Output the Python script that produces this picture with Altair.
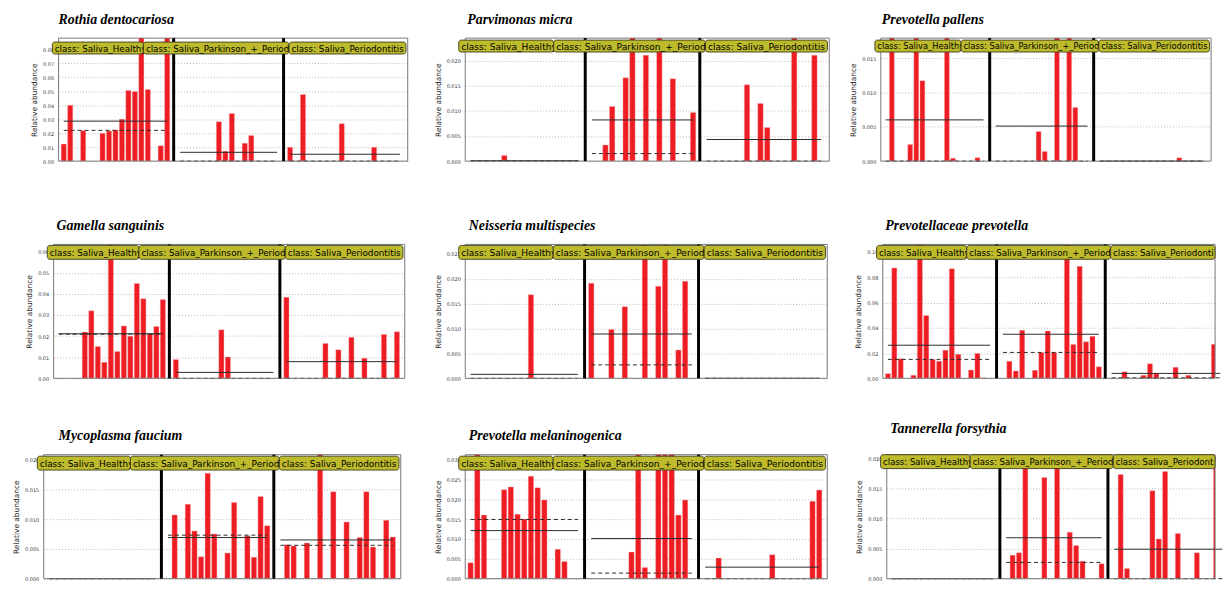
import altair as alt
import pandas as pd

# ---------------- data ----------------
CLASS_NAMES = ["Saliva_Healthy", "Saliva_Parkinson_+_Periodontitis", "Saliva_Periodontitis"]
CLASS_FIRST = [0, 18, 35]
CLASS_LAST = [16, 33, 52]
SEPARATORS = [17, 34]
X_START = -0.8

TITLES = ["Rothia dentocariosa", "Parvimonas micra", "Prevotella pallens",
          "Gamella sanguinis", "Neisseria multispecies", "Prevotellaceae prevotella",
          "Mycoplasma faucium", "Prevotella melaninogenica", "Tannerella forsythia"]

P1_IDX = [0, 1, 3, 6, 7, 8, 9, 10, 11, 12, 13, 15, 16, 24, 25, 26, 28, 29, 35, 37, 43, 48]
P1_VAL = [0.0122, 0.040, 0.0218, 0.020, 0.0216, 0.0223, 0.030, 0.0505, 0.0498, 0.095, 0.0512, 0.011, 0.095,
          0.0282, 0.007, 0.034, 0.0127, 0.0183, 0.0099, 0.0477, 0.0268, 0.0099]
P1_MEAN = [0.0286, 0.0063, 0.0049]
P1_MEDIAN = [0.022, 0.0, 0.0]
P1_TICKS = [0.0, 0.01, 0.02, 0.03, 0.04, 0.05, 0.06, 0.07, 0.08]

P2_IDX = [5, 20, 21, 23, 24, 26, 28, 30, 33, 41, 43, 44, 48, 51]
P2_VAL = [0.0011, 0.0032, 0.0109, 0.0166, 0.028, 0.0211, 0.028, 0.0164, 0.0097,
          0.0152, 0.0115, 0.0067, 0.028, 0.0211]
P2_MEAN = [0.0001, 0.0082, 0.0043]
P2_MEDIAN = [0.0, 0.0015, 0.0]
P2_TICKS = [0.0, 0.005, 0.010, 0.015, 0.020]

P3_IDX = [1, 4, 5, 6, 10, 11, 15, 25, 26, 28, 30, 31, 48]
P3_VAL = [0.022, 0.0024, 0.022, 0.0117, 0.022, 0.0004, 0.0005, 0.0043, 0.0014, 0.022, 0.022, 0.0078, 0.0005]
P3_MEAN = [0.006, 0.0051, 0.0]
P3_MEDIAN = [0.0, 0.0, 0.0]
P3_TICKS = [0.0, 0.005, 0.010, 0.015]

P4_IDX = [4, 5, 6, 7, 8, 9, 10, 11, 12, 13, 14, 15, 16, 18, 25, 26, 35, 41, 43, 45, 47, 50, 52]
P4_VAL = [0.0219, 0.032, 0.0151, 0.0076, 0.07, 0.0127, 0.0248, 0.0199, 0.0449, 0.0377, 0.0211, 0.0245, 0.0373,
          0.0089, 0.023, 0.0101, 0.0384, 0.0165, 0.0135, 0.0194, 0.0095, 0.0208, 0.022]
P4_MEAN = [0.0211, 0.0028, 0.0079]
P4_MEDIAN = [0.0209, 0.0, 0.0]
P4_TICKS = [0.0, 0.01, 0.02, 0.03, 0.04, 0.05, 0.06]

P5_IDX = [9, 18, 21, 23, 26, 28, 29, 31, 32]
P5_VAL = [0.0168, 0.0191, 0.0098, 0.0144, 0.03, 0.0185, 0.03, 0.0057, 0.0195]
P5_MEAN = [0.0008, 0.0089, 0.0]
P5_MEDIAN = [0.0, 0.0027, 0.0]
P5_TICKS = [0.0, 0.005, 0.010, 0.015, 0.020, 0.025]

P6_IDX = [0, 1, 2, 4, 5, 6, 7, 8, 9, 10, 11, 13, 14, 15,
          19, 20, 21, 23, 24, 25, 26, 28, 29, 30, 31, 32, 33,
          37, 40, 41, 42, 45, 47, 51, 52]
P6_VAL = [0.0037, 0.0873, 0.0155, 0.0024, 0.115, 0.0498, 0.015, 0.0136, 0.0223, 0.0868, 0.0191, 0.0066, 0.0197, 0.0005,
          0.0136, 0.0058, 0.038, 0.0063, 0.0205, 0.0375, 0.0205, 0.115, 0.0268, 0.0887, 0.0289, 0.0333, 0.0092,
          0.0052, 0.0024, 0.0115, 0.0039, 0.0087, 0.0024, 0.027, 0.0197]
P6_MEAN = [0.0262, 0.0349, 0.0039]
P6_MEDIAN = [0.015, 0.0205, 0.0004]
P6_TICKS = [0.0, 0.02, 0.04, 0.06, 0.08, 0.10]

P7_IDX = [19, 21, 22, 23, 24, 25, 27, 28, 30, 31, 32, 33, 36, 37, 39, 41, 43, 45, 47, 48, 49, 51, 52]
P7_VAL = [0.0107, 0.0125, 0.008, 0.0037, 0.0177, 0.0075, 0.0043, 0.0128, 0.0072, 0.0036, 0.0138, 0.0089,
          0.0057, 0.0055, 0.006, 0.025, 0.0146, 0.0095, 0.0069, 0.0146, 0.0053, 0.0098, 0.007]
P7_MEAN = [0.0, 0.0069, 0.0065]
P7_MEDIAN = [0.0, 0.0073, 0.0056]
P7_TICKS = [0.0, 0.005, 0.010, 0.015, 0.020]

P8_IDX = [0, 1, 2, 5, 6, 7, 8, 9, 10, 11, 13, 14, 24, 25, 26, 28, 29, 30, 31, 32, 37, 45, 51, 52]
P8_VAL = [0.004, 0.035, 0.016, 0.0224, 0.0231, 0.0162, 0.015, 0.0258, 0.0229, 0.0198, 0.0074, 0.0043,
          0.0067, 0.035, 0.0028, 0.035, 0.035, 0.035, 0.016, 0.0198, 0.0052, 0.006, 0.0195, 0.0223]
P8_MEAN = [0.0121, 0.0101, 0.0029]
P8_MEDIAN = [0.0149, 0.0014, 0.0]
P8_TICKS = [0.0, 0.005, 0.010, 0.015, 0.020, 0.025, 0.030]

P9_IDX = [19, 20, 21, 24, 26, 28, 29, 30, 33, 36, 37, 41, 42, 43, 45, 48, 51]
P9_VAL = [0.0039, 0.0043, 0.025, 0.0168, 0.025, 0.0077, 0.0055, 0.0029, 0.0025,
          0.0173, 0.0017, 0.0146, 0.0066, 0.0178, 0.0075, 0.0043, 0.025]
P9_MEAN = [0.0, 0.0068, 0.0049]
P9_MEDIAN = [0.0, 0.0027, 0.0]
P9_TICKS = [0.0, 0.005, 0.010, 0.015, 0.020]

# ---------------- styling / layout ----------------
RED = "#ee1d24"
OLIVE = "#bdbb2b"
FONT = "DejaVu Sans"

def panel(title, idx, val, mean, median, ticks, ymax, fmt,
          full_w, vis_w, h, box_y, title_off, title_dx):
    unit = full_w / 54.0
    xmax = X_START + vis_w / unit
    xs = alt.Scale(domain=[X_START, xmax], nice=False, zero=False)
    ys = alt.Scale(domain=[0, ymax], nice=False)
    yaxis = alt.Axis(values=ticks, format=fmt, title="Relative abundance",
                     grid=True, gridDash=[1, 2], gridColor="#a8a8a8", gridWidth=0.8,
                     ticks=False, domain=False,
                     labelFont=FONT, labelFontSize=5, labelColor="#333", labelPadding=5,
                     titleFont=FONT, titleFontSize=7.5, titleFontWeight="normal",
                     titleColor="#222", titlePadding=4)

    bars_df = pd.DataFrame({"k": idx, "v": val})
    bars = alt.Chart(bars_df).transform_calculate(
        x0="datum.k - 0.4", x1="datum.k + 0.4"
    ).mark_bar(color=RED, clip=True, stroke="#f7b0b0", strokeWidth=0.4).encode(
        x=alt.X("x0:Q", scale=xs, axis=None), x2="x1:Q",
        y=alt.Y("v:Q", scale=ys, axis=yaxis), y2=alt.datum(0))

    stats = pd.DataFrame({"s": CLASS_FIRST, "e": CLASS_LAST, "mean": mean, "median": median})
    mean_rule = alt.Chart(stats).mark_rule(color="#2a2a2a", strokeWidth=1).encode(
        x=alt.X("s:Q", scale=xs, axis=None), x2="e:Q",
        y=alt.Y("mean:Q", scale=ys, axis=yaxis))
    median_rule = alt.Chart(stats).mark_rule(color="#2a2a2a", strokeWidth=1, strokeDash=[4, 3]).encode(
        x=alt.X("s:Q", scale=xs, axis=None), x2="e:Q",
        y=alt.Y("median:Q", scale=ys, axis=yaxis))

    frame = alt.Chart(pd.DataFrame({"f": [0]})).mark_rect(
        fillOpacity=0, stroke="#777", strokeWidth=1).encode(
        x=alt.value(0), x2=alt.value(vis_w), y=alt.value(0), y2=alt.value(h))

    seps = alt.Chart(pd.DataFrame({"b": SEPARATORS})).mark_rule(
        color="black", strokeWidth=3).encode(x=alt.X("b:Q", scale=xs, axis=None))

    layers = [bars, mean_rule, median_rule, frame, seps]
    starts = [-0.018 * full_w, 0.243 * full_w, 0.66 * full_w]
    ends = [starts[1], starts[2], min(0.995 * full_w, vis_w)]
    fs = 9.0 * full_w / 360.0
    y0, y1 = box_y
    for name, bx0, bx1 in zip(CLASS_NAMES, starts, ends):
        lab = pd.DataFrame({"t": ["class: " + name]})
        layers.append(alt.Chart(lab).mark_rect(
            fill=OLIVE, stroke="#3b3b22", strokeWidth=0.9, cornerRadius=2.5).encode(
            x=alt.value(bx0), x2=alt.value(bx1), y=alt.value(y0), y2=alt.value(y1)))
        layers.append(alt.Chart(lab).mark_text(
            align="left", baseline="middle", font=FONT, fontSize=fs, color="black",
            limit=max(vis_w - bx0 - 3.5, 10), ellipsis="\u200b").encode(
            x=alt.value(bx0 + 2.5), y=alt.value((y0 + y1) / 2 + 0.5), text="t:N"))

    return alt.layer(*layers).properties(
        width=vis_w, height=h,
        title=alt.TitleParams(title, anchor="start", frame="group", font="Liberation Serif",
                              fontSize=14, fontStyle="italic", fontWeight="bold",
                              color="black", offset=title_off, dx=title_dx))


def spacer(w, h):
    return alt.Chart(pd.DataFrame({"s": [0]})).mark_point(opacity=0, size=1).encode(
        x=alt.value(w / 2), y=alt.value(h / 2)).properties(width=w, height=h)


# the page leaves 1216 px for the chart: wider charts get shrunk, so rows stay within it
H1, H2, H3 = 124, 135, 125
p1 = panel(TITLES[0], P1_IDX, P1_VAL, P1_MEAN, P1_MEDIAN, P1_TICKS, 0.088, ".2f", 352, 352, H1, (4, 16), 10, 0)
p2 = panel(TITLES[1], P2_IDX, P2_VAL, P2_MEAN, P2_MEDIAN, P2_TICKS, 0.0245, ".3f", 367, 367, H1, (2, 14), 10, 2)
p3 = panel(TITLES[2], P3_IDX, P3_VAL, P3_MEAN, P3_MEDIAN, P3_TICKS, 0.0179, ".3f", 333, 333, H1, (2, 14), 10, 1)
p4 = panel(TITLES[3], P4_IDX, P4_VAL, P4_MEAN, P4_MEDIAN, P4_TICKS, 0.0634, ".2f", 354, 354, H2, (1, 15), 10, 3)
p5 = panel(TITLES[4], P5_IDX, P5_VAL, P5_MEAN, P5_MEDIAN, P5_TICKS, 0.0269, ".3f", 365, 365, H2, (1, 15), 10, 3.5)
p6 = panel(TITLES[5], P6_IDX, P6_VAL, P6_MEAN, P6_MEDIAN, P6_TICKS, 0.106, ".2f", 348, 335, H2, (1, 15), 10, 2.5)
p7 = panel(TITLES[6], P7_IDX, P7_VAL, P7_MEAN, P7_MEDIAN, P7_TICKS, 0.0208, ".3f", 360, 360, H3, (1.5, 15.5), 10, 15)
p8 = panel(TITLES[7], P8_IDX, P8_VAL, P8_MEAN, P8_MEDIAN, P8_TICKS, 0.0312, ".3f", 365, 365, H3, (1.5, 15.5), 10, 3.5)
p9 = panel(TITLES[8], P9_IDX, P9_VAL, P9_MEAN, P9_MEDIAN, P9_TICKS, 0.0206, ".3f", 346, 331, H3, (0, 14), 17, 3.5)

row1 = alt.hconcat(spacer(50, 1), p1, spacer(58, 1), p2, spacer(52, 1), p3, spacing=0, bounds="flush")
row2 = alt.hconcat(spacer(45, 1), p4, spacer(61, 1), p5, spacer(56, 1), p6, spacing=0, bounds="flush")
row3 = alt.hconcat(spacer(35, 1), p7, spacer(65, 1), p8, spacer(60, 1), p9, spacing=0, bounds="flush")

# nested rows count as zero height in a flush layout, so spacers carry the row heights
chart = alt.vconcat(spacer(1, 27), row1, spacer(1, H1 + 84), row2, spacer(1, H2 + 77), row3,
                    spacing=0, bounds="flush").properties(
    padding={"left": 0, "top": 0, "right": 0, "bottom": 0}
).configure_view(stroke="transparent")

chart.save("out.html", embed_options={"renderer": "svg", "actions": False})
